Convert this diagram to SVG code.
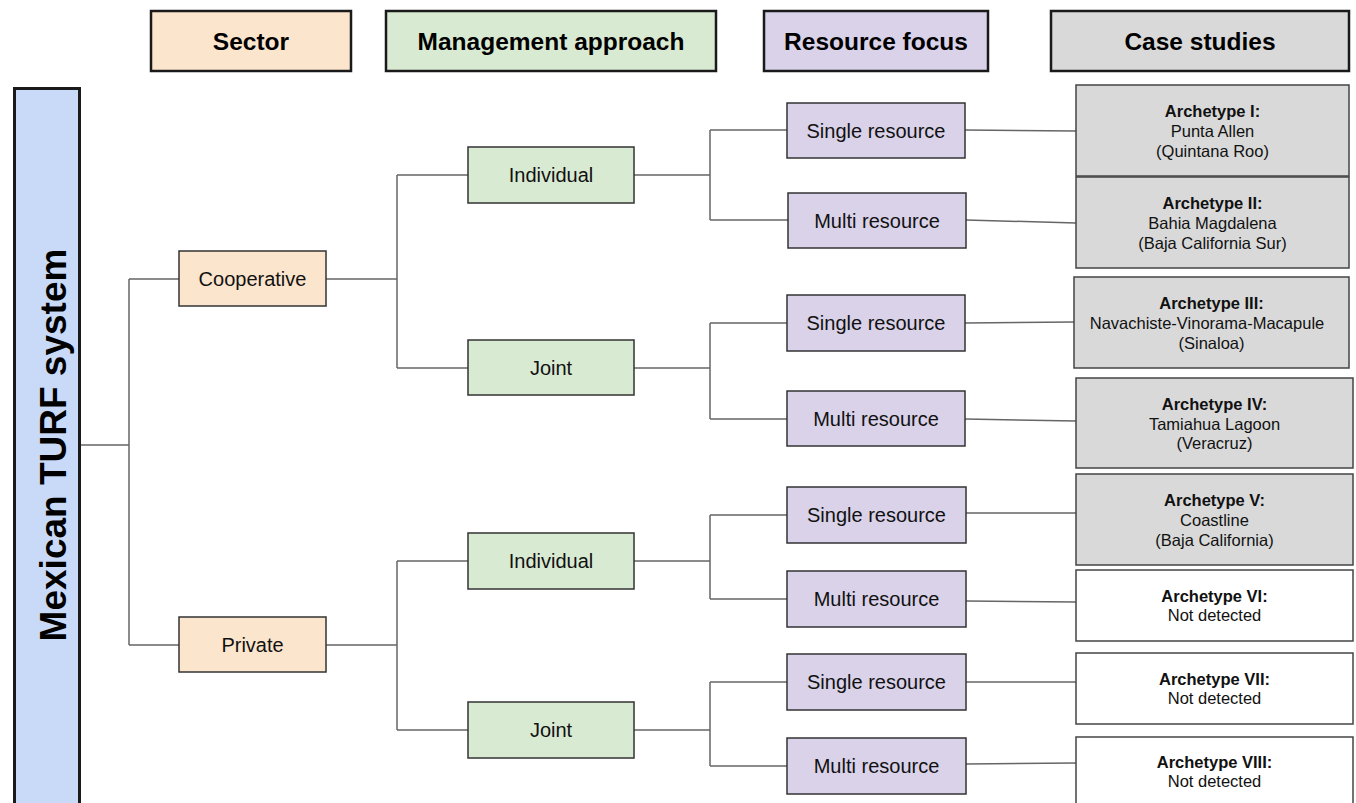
<svg xmlns="http://www.w3.org/2000/svg" width="1356" height="803" viewBox="0 0 1356 803">
<style>
.hdr{stroke:#1a1a1a;stroke-width:2.5}
.nd{stroke:#333;stroke-width:1.5}
.cs{stroke:#444;stroke-width:1.5}
.ht{font-family:"Liberation Sans",Arial,sans-serif;font-weight:bold;font-size:24.5px;fill:#000;text-anchor:middle}
.nt{font-family:"Liberation Sans",Arial,sans-serif;font-size:20px;fill:#111;text-anchor:middle}
.ct{font-family:"Liberation Sans",Arial,sans-serif;font-size:16.5px;fill:#111;text-anchor:middle}
.cb{font-weight:bold}
.sec{fill:#fce5cd}.mgt{fill:#d9ead3}.res{fill:#d9d2e9}.cas{fill:#d9d9d9}.non{fill:#fff}
#connectors path{fill:none;stroke:#666;stroke-width:1.5}
</style>
<rect width="1356" height="803" fill="#fff"/>
<g id="headers">
<g id="h-sector"><rect class="hdr sec" x="151" y="11" width="200" height="60"/><text class="ht" x="251" y="50">Sector</text></g>
<g id="h-mgmt"><rect class="hdr mgt" x="386" y="11" width="330" height="60"/><text class="ht" x="551" y="50">Management approach</text></g>
<g id="h-res"><rect class="hdr res" x="764" y="11" width="224" height="60"/><text class="ht" x="876" y="50">Resource focus</text></g>
<g id="h-case"><rect class="hdr cas" x="1051" y="11" width="298" height="60"/><text class="ht" x="1200" y="50">Case studies</text></g>
</g>
<g id="connectors">
<path d="M80 445H129M129 279V645M129 279H179M129 645H179"/>
<path d="M326 279H397M397 175V368M397 175H468M397 368H468"/>
<path d="M326 645H397M397 561V730M397 561H468M397 730H468"/>
<path d="M634 175H710M710 130V220M710 130H787M710 220H788"/>
<path d="M634 368H710M710 323V419M710 323H787M710 419H787"/>
<path d="M634 561H710M710 515V599M710 515H787M710 599H787"/>
<path d="M634 730H710M710 682V766M710 682H787M710 766H787"/>
<path d="M965 130L1076 131M966 220L1076 223M965 323L1074 322M965 419L1076 421M966 513L1076 513M966 601L1076 602M966 682L1076 682M966 764L1076 763"/>
</g>
<g id="root">
<rect x="14.5" y="88.5" width="65" height="730" fill="#c9daf8" stroke="#1a1a1a" stroke-width="3"/>
<text x="66" y="445" transform="rotate(-90 66 445)" font-family="'Liberation Sans',Arial,sans-serif" font-weight="bold" font-size="37" text-anchor="middle" fill="#000">Mexican TURF system</text>
</g>
<g id="cooperative"><rect class="nd sec" x="179" y="251" width="147" height="55"/><text class="nt" x="252.5" y="286">Cooperative</text></g>
<g id="private"><rect class="nd sec" x="179" y="617" width="147" height="55"/><text class="nt" x="252.5" y="652">Private</text></g>
<g id="individual-1"><rect class="nd mgt" x="468" y="147" width="166" height="56"/><text class="nt" x="551" y="182">Individual</text></g>
<g id="joint-1"><rect class="nd mgt" x="468" y="340" width="166" height="55"/><text class="nt" x="551" y="375">Joint</text></g>
<g id="individual-2"><rect class="nd mgt" x="468" y="533" width="166" height="56"/><text class="nt" x="551" y="568">Individual</text></g>
<g id="joint-2"><rect class="nd mgt" x="468" y="702" width="166" height="56"/><text class="nt" x="551" y="737">Joint</text></g>
<g id="single-1"><rect class="nd res" x="787" y="103" width="178" height="55"/><text class="nt" x="876" y="138">Single resource</text></g>
<g id="multi-1"><rect class="nd res" x="788" y="193" width="178" height="55"/><text class="nt" x="877" y="228">Multi resource</text></g>
<g id="single-2"><rect class="nd res" x="787" y="295" width="178" height="56"/><text class="nt" x="876" y="330">Single resource</text></g>
<g id="multi-2"><rect class="nd res" x="787" y="391" width="178" height="55"/><text class="nt" x="876" y="426">Multi resource</text></g>
<g id="single-3"><rect class="nd res" x="787" y="487" width="179" height="56"/><text class="nt" x="876.5" y="522">Single resource</text></g>
<g id="multi-3"><rect class="nd res" x="787" y="571" width="179" height="56"/><text class="nt" x="876.5" y="606">Multi resource</text></g>
<g id="single-4"><rect class="nd res" x="787" y="654" width="179" height="56"/><text class="nt" x="876.5" y="689">Single resource</text></g>
<g id="multi-4"><rect class="nd res" x="787" y="738" width="179" height="56"/><text class="nt" x="876.5" y="773">Multi resource</text></g>
<g id="arch-1"><rect class="cs cas" x="1076" y="85" width="273" height="91"/>
<text class="ct cb" x="1212.5" y="117">Archetype I:</text><text class="ct" x="1212.5" y="137">Punta Allen</text><text class="ct" x="1212.5" y="156.5">(Quintana Roo)</text></g>
<g id="arch-2"><rect class="cs cas" x="1076" y="177" width="273" height="91"/>
<text class="ct cb" x="1212.5" y="209">Archetype II:</text><text class="ct" x="1212.5" y="229">Bahia Magdalena</text><text class="ct" x="1212.5" y="248.5">(Baja California Sur)</text></g>
<g id="arch-3"><rect class="cs cas" x="1074" y="277" width="275" height="91"/>
<text class="ct cb" x="1211.5" y="309">Archetype III:</text><text class="ct" x="1207" y="329">Navachiste-Vinorama-Macapule</text><text class="ct" x="1211.5" y="348.5">(Sinaloa)</text></g>
<g id="arch-4"><rect class="cs cas" x="1076" y="378" width="277" height="90"/>
<text class="ct cb" x="1214.5" y="409.5">Archetype IV:</text><text class="ct" x="1214.5" y="429.5">Tamiahua Lagoon</text><text class="ct" x="1214.5" y="449">(Veracruz)</text></g>
<g id="arch-5"><rect class="cs cas" x="1076" y="474" width="277" height="91"/>
<text class="ct cb" x="1214.5" y="506">Archetype V:</text><text class="ct" x="1214.5" y="526">Coastline</text><text class="ct" x="1214.5" y="545.5">(Baja California)</text></g>
<g id="arch-6"><rect class="cs non" x="1076" y="570" width="277" height="71"/>
<text class="ct cb" x="1214.5" y="602">Archetype VI:</text><text class="ct" x="1214.5" y="621">Not detected</text></g>
<g id="arch-7"><rect class="cs non" x="1076" y="653" width="277" height="71"/>
<text class="ct cb" x="1214.5" y="685">Archetype VII:</text><text class="ct" x="1214.5" y="704">Not detected</text></g>
<g id="arch-8"><rect class="cs non" x="1076" y="737" width="277" height="80"/>
<text class="ct cb" x="1214.5" y="768">Archetype VIII:</text><text class="ct" x="1214.5" y="787">Not detected</text></g>
</svg>
